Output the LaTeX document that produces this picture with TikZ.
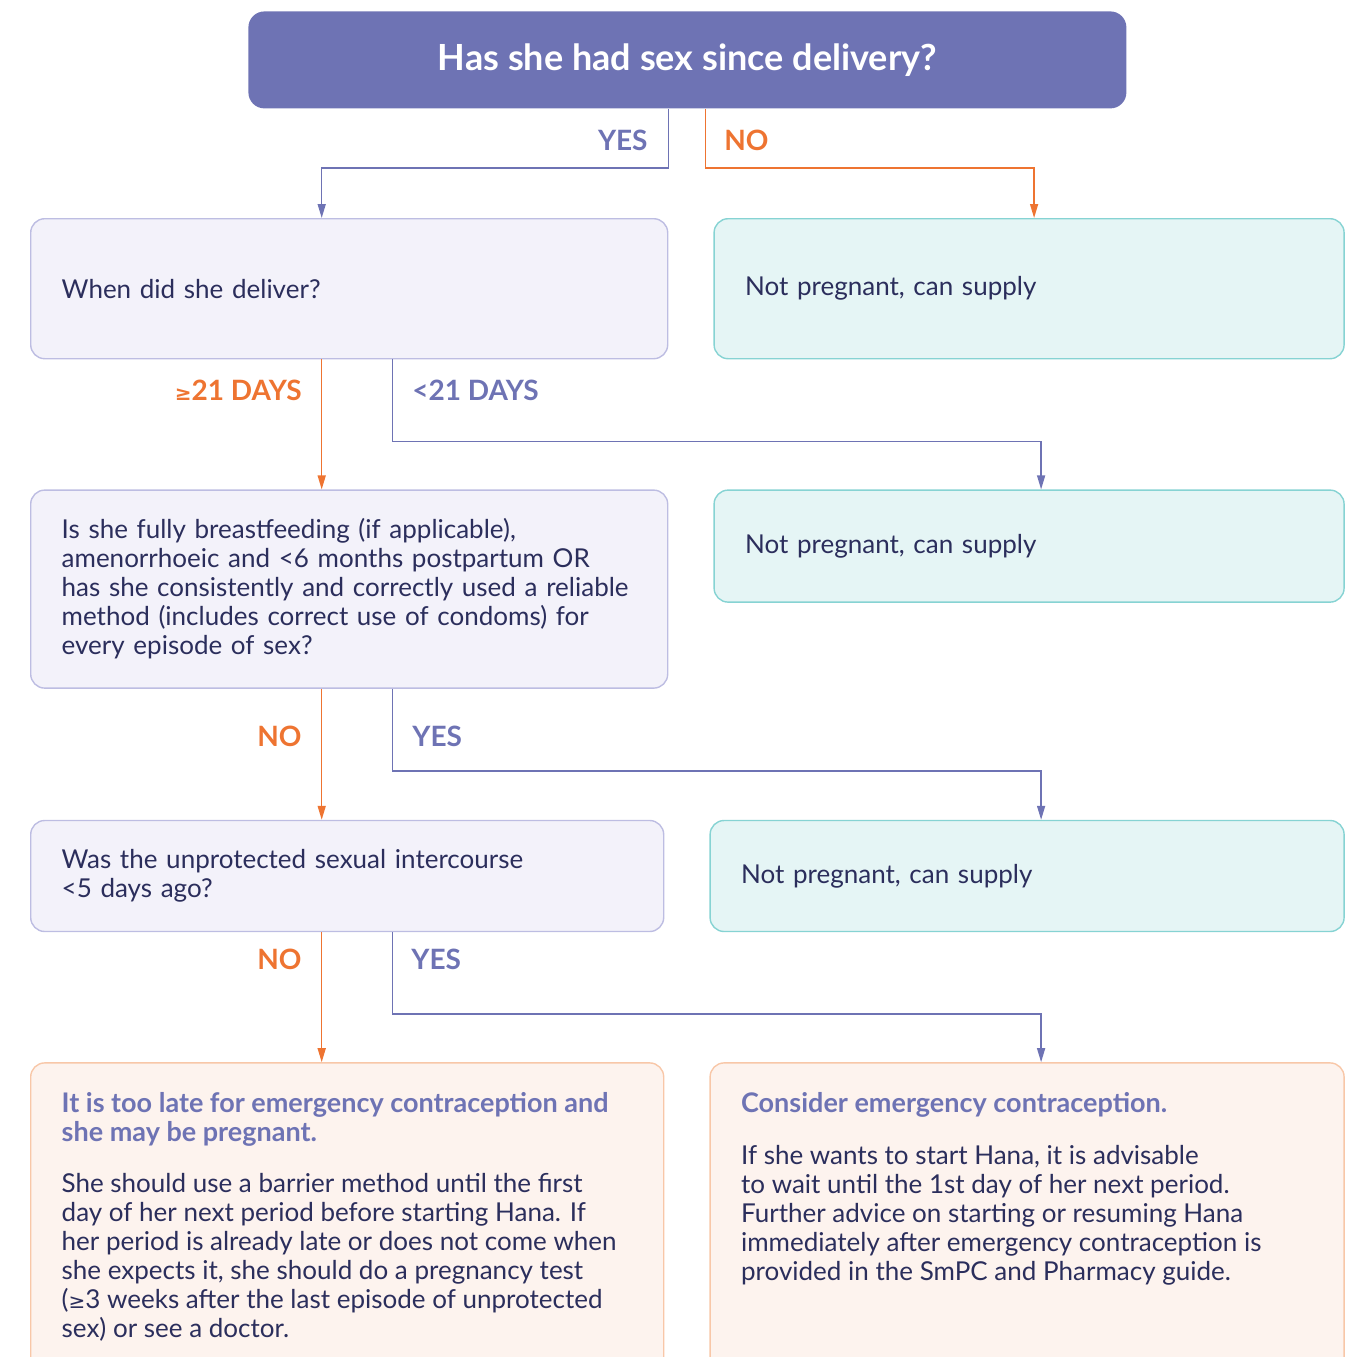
\documentclass[tikz,border=0pt]{standalone}
\usepackage{fontspec}
\setmainfont{Lato}
\newfontfamily\symfont{DejaVu Sans}
\usetikzlibrary{arrows.meta,positioning}

\definecolor{hpurple}{HTML}{6E73B4}
\definecolor{horange}{HTML}{EE7431}
\definecolor{hnavy}{HTML}{2B2E5C}
\definecolor{qfill}{HTML}{F3F2FA}
\definecolor{qdraw}{HTML}{BDBDE2}
\definecolor{okfill}{HTML}{E5F5F5}
\definecolor{okdraw}{HTML}{86D3D3}
\definecolor{endfill}{HTML}{FDF3EE}
\definecolor{enddraw}{HTML}{F8C7A8}
\newcommand{\atleast}{{\symfont\fontsize{10}{12}\selectfont ≥}}

\begin{document}
\begin{tikzpicture}[x=0.5pt, y=-0.5pt,
  head/.style={rectangle, fill=hpurple, rounded corners=8pt, text=white, font=\bfseries\fontsize{18}{20}\selectfont, minimum width=439pt, minimum height=48.5pt},
  box/.style={rectangle, draw, rounded corners=7pt, align=left, text=hnavy, font=\fontsize{13}{14.5}\selectfont, inner xsep=15.5pt, line width=0.7pt},
  qbox/.style={box, fill=qfill, draw=qdraw},
  okbox/.style={box, fill=okfill, draw=okdraw},
  endbox/.style={box, fill=endfill, draw=enddraw, inner ysep=15pt},
  yesarr/.style={-{Triangle[length=7pt,width=4pt]}, hpurple, line width=0.75pt},
  noarr/.style={-{Triangle[length=7pt,width=4pt]}, horange, line width=0.75pt},
  lbl/.style={inner sep=0pt, font=\bfseries\fontsize{14}{17}\selectfont}
]
\path[use as bounding box] (0,0) rectangle (1354,1357);
\clip (0,0) rectangle (1354,1357);

\node[head, anchor=north west] (start) at (248,11) {\raisebox{-1.5pt}{Has she had sex since delivery?}};

% left column
\node[qbox, anchor=north west, text width=287.5pt, minimum height=70pt] (deliver) at (30,218) {When did she deliver?};
\node[qbox, below=65pt of deliver.south west, anchor=north west, text width=287.5pt, minimum height=99pt] (feed) {Is she fully breastfeeding (if applicable),\\ amenorrhoeic and <6 months postpartum OR\\ has she consistently and correctly used a reliable\\ method (includes correct use of condoms) for\\ every episode of sex?};
\node[qbox, below=65.5pt of feed.south west, anchor=north west, text width=285.5pt, minimum height=55.5pt] (usi) {Was the unprotected sexual intercourse\\ <5 days ago?};
\node[endbox, below=65pt of usi.south west, anchor=north west] (late) {\begin{minipage}[t][160pt][t]{285.5pt}\raggedright
  {\bfseries\fontsize{13.5}{14.5}\selectfont\color{hpurple}It is too late for emergency contraception and\\ she may be pregnant.}\\[11pt]
  She should use a barrier method until the first\\ day of her next period before starting Hana. If\\ her period is already late or does not come when\\ she expects it, she should do a pregnancy test\\ (\atleast3 weeks after the last episode of unprotected\\ sex) or see a doctor.
\end{minipage}};

% right column
\node[okbox, right=22.5pt of deliver.north east, anchor=north west, text width=284pt, minimum height=70pt] (ok1) {Not pregnant, can supply};
\node[okbox, right=22.5pt of feed.north east, anchor=north west, text width=284pt, minimum height=56pt] (ok2) {Not pregnant, can supply};
\node[okbox, right=22.5pt of usi.north east, anchor=north west, text width=286pt, minimum height=55.5pt] (ok3) {Not pregnant, can supply};
\node[endbox, right=22.5pt of late.north east, anchor=north west] (ec) {\begin{minipage}[t][160pt][t]{286pt}\raggedright
  {\bfseries\fontsize{13.5}{14.5}\selectfont\color{hpurple}Consider emergency contraception.}\\[11.5pt]
  If she wants to start Hana, it is advisable\\ to wait until the 1st day of her next period.\\ Further advice on starting or resuming Hana\\ immediately after emergency contraception is\\ provided in the SmPC and Pharmacy guide.
\end{minipage}};

% connectors
\draw[yesarr] ([xshift=-9.5pt]start.south) -- ++(0,59) -| ([xshift=-13.75pt]deliver.north);
\draw[noarr] ([xshift=9pt]start.south) -- ++(0,59) -| ([xshift=2.5pt]ok1.north);
\draw[noarr] ([xshift=-13.75pt]deliver.south) -- ([xshift=-13.75pt]feed.north);
\draw[yesarr] ([xshift=21.75pt]deliver.south) -- ++(0,82) -| ([xshift=6pt]ok2.north);
\draw[noarr] ([xshift=-13.75pt]feed.south) coordinate (f1) -- (f1 |- usi.north);
\draw[yesarr] ([xshift=21.75pt]feed.south) -- ++(0,82) -| ([xshift=7pt]ok3.north);
\draw[noarr] ([xshift=-12.75pt]usi.south) -- ([xshift=-12.75pt]late.north);
\draw[yesarr] ([xshift=22.75pt]usi.south) -- ++(0,82) -| ([xshift=7pt]ec.north);

% labels
\node[lbl, hpurple, anchor=east] (l1) at (648,140) {YES};
\node[lbl, horange, anchor=west] (l2) at (724,140) {NO};
\node[lbl, horange, anchor=east] (l3) at (302,390) {\atleast21 DAYS};
\node[lbl, hpurple, anchor=west] (l4) at (412,390) {<21 DAYS};
\node[lbl, horange, anchor=east] (l5) at (302,736) {NO};
\node[lbl, hpurple, anchor=west] (l6) at (412,736) {YES};
\node[lbl, horange, anchor=east] (l7) at (302,959) {NO};
\node[lbl, hpurple, anchor=west] (l8) at (411,959) {YES};
\end{tikzpicture}
\end{document}
